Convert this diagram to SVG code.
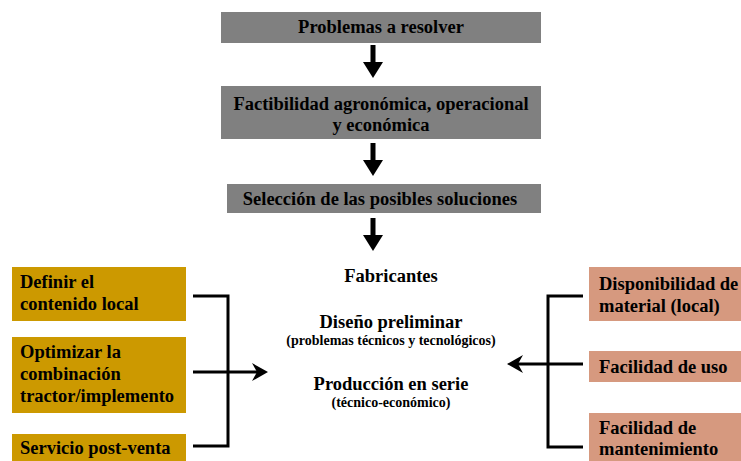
<svg xmlns="http://www.w3.org/2000/svg" width="741" height="461" viewBox="0 0 741 461">
<style>
text{font-family:"Liberation Serif","Times New Roman",serif;font-weight:bold;fill:#000}
.t{font-size:18.5px}
.c{text-anchor:middle}
.s{font-size:14px}
.gray{fill:#808080}
.gold{fill:#CC9900}
.sal{fill:#D6997F}
.ln{stroke:#000;stroke-width:3;fill:none}
</style>
<defs>
<g id="down"><rect x="-2.5" y="0" width="5" height="18" fill="#000"/><polygon points="-10,17 10,17 0,33" fill="#000"/></g>
</defs>
<g id="n1"><rect class="gray" x="221" y="12" width="320" height="31"/><text class="t c" x="381" y="33">Problemas a resolver</text></g>
<g id="n2"><rect class="gray" x="221" y="86" width="320" height="53"/><text class="t c" x="381" y="110">Factibilidad agronómica, operacional</text><text class="t c" x="381" y="131">y económica</text></g>
<g id="n3"><rect class="gray" x="227" y="184" width="314" height="29"/><text class="t c" x="380" y="205">Selección de las posibles soluciones</text></g>
<g id="center"><text class="t c" x="391" y="282">Fabricantes</text><text class="t c" x="391" y="328">Diseño preliminar</text><text class="s c" x="391" y="345">(problemas técnicos y tecnológicos)</text><text class="t c" x="391" y="390">Producción en serie</text><text class="s c" x="391" y="407">(técnico-económico)</text></g>
<g id="l1"><rect class="gold" x="12" y="267" width="174" height="54"/><text class="t" x="20" y="288">Definir el</text><text class="t" x="20" y="310">contenido local</text></g>
<g id="l2"><rect class="gold" x="12" y="337" width="174" height="76"/><text class="t" x="20" y="358">Optimizar la</text><text class="t" x="20" y="380">combinación</text><text class="t" x="20" y="402">tractor/implemento</text></g>
<g id="l3"><rect class="gold" x="12" y="434" width="174" height="27"/><text class="t" x="20" y="454">Servicio post-venta</text></g>
<g id="r1"><rect class="sal" x="589" y="267" width="152" height="54"/><text class="t" x="599" y="290">Disponibilidad de</text><text class="t" x="599" y="312">material (local)</text></g>
<g id="r2"><rect class="sal" x="589" y="351" width="152" height="31"/><text class="t" x="599" y="373">Facilidad de uso</text></g>
<g id="r3"><rect class="sal" x="589" y="413" width="152" height="48"/><text class="t" x="599" y="434">Facilidad de</text><text class="t" x="599" y="455">mantenimiento</text></g>
<g id="connectors">
<use href="#down" x="373" y="45"/>
<use href="#down" x="373" y="143"/>
<use href="#down" x="373" y="218"/>
<path class="ln" d="M193,296 H228 V446 H193 M193,372 H258"/>
<polygon points="268,372 252,363 257,372 252,381" fill="#000"/>
<path class="ln" d="M583,296 H548 V447 H583 M583,364 H517"/>
<polygon points="507,364 523,355 518,364 523,373" fill="#000"/>
</g>
</svg>
